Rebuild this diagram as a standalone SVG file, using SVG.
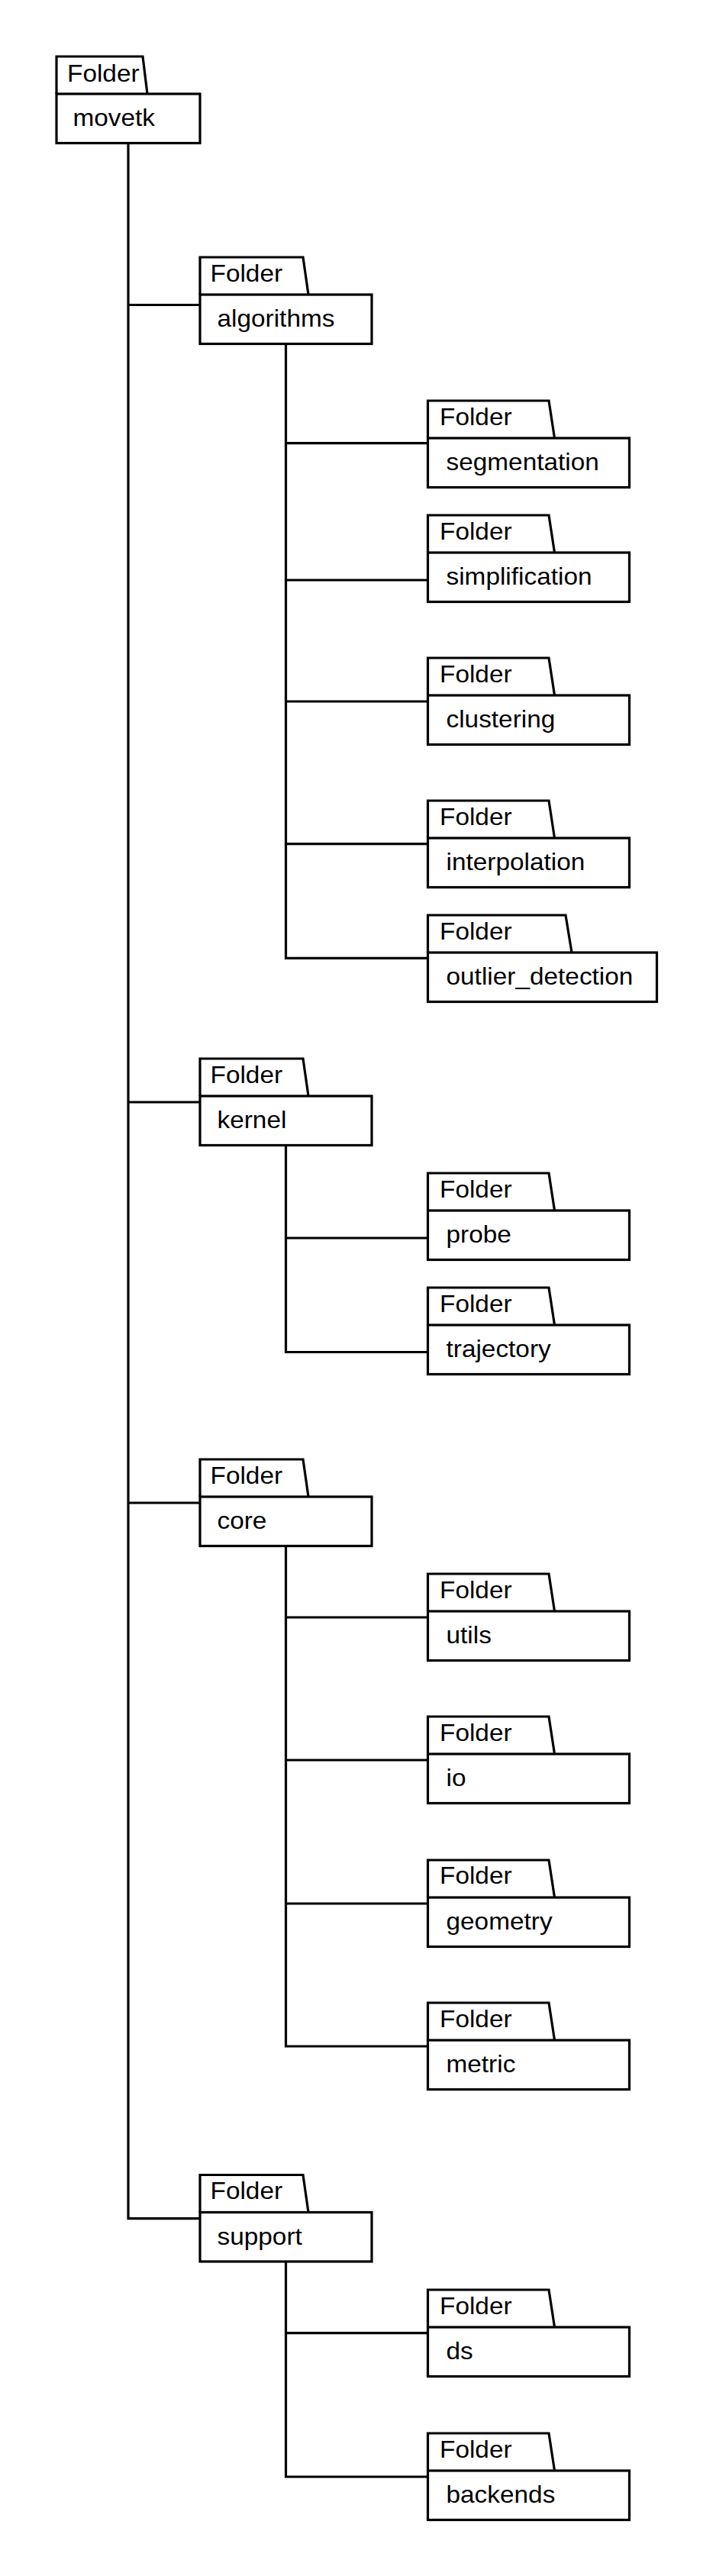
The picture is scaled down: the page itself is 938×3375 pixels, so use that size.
<svg xmlns="http://www.w3.org/2000/svg" width="938" height="3375" viewBox="0 0 938 3375">
<style>
.tab,.box{fill:#ffffff;stroke:#000000;stroke-width:3.2;stroke-linejoin:miter}
.conn{fill:none;stroke:#000000;stroke-width:3.2;stroke-linecap:butt;stroke-linejoin:miter}
text{font-family:"Liberation Sans",Arial,sans-serif;font-size:31.5px;fill:#000000}
</style>
<rect width="938" height="3375" fill="#ffffff"/>
<g id="connectors">
<path class="conn" d="M168,188 V2906.6 H262"/>
<path class="conn" d="M168,399.5 H262"/>
<path class="conn" d="M168,1444 H262"/>
<path class="conn" d="M168,1969 H262"/>
<path class="conn" d="M374.5,450 V1255.3 H560.5"/>
<path class="conn" d="M374.5,580.7 H560.5"/>
<path class="conn" d="M374.5,760 H560.5"/>
<path class="conn" d="M374.5,919 H560.5"/>
<path class="conn" d="M374.5,1105.7 H560.5"/>
<path class="conn" d="M374.5,1500 V1771.5 H560.5"/>
<path class="conn" d="M374.5,1622 H560.5"/>
<path class="conn" d="M374.5,2025 V2681 H560.5"/>
<path class="conn" d="M374.5,2119 H560.5"/>
<path class="conn" d="M374.5,2306 H560.5"/>
<path class="conn" d="M374.5,2494 H560.5"/>
<path class="conn" d="M374.5,2962.5 V3245 H560.5"/>
<path class="conn" d="M374.5,3056.6 H560.5"/>
</g>
<g id="movetk">
<path class="tab" d="M74,123 V74 H187 L193,123"/>
<rect class="box" x="74" y="123" width="188" height="64.5"/>
<text transform="matrix(1.06,0,0,1,88,106.5)">Folder</text>
<text transform="matrix(1.06,0,0,1,95.5,165)">movetk</text>
</g>
<g id="algorithms">
<path class="tab" d="M262,386 V337 H397 L404,386"/>
<rect class="box" x="262" y="386" width="225" height="64.5"/>
<text transform="matrix(1.06,0,0,1,275.5,368.5)">Folder</text>
<text transform="matrix(1.06,0,0,1,284.5,428)">algorithms</text>
</g>
<g id="segmentation">
<path class="tab" d="M560.5,574 V525 H719 L726.5,574"/>
<rect class="box" x="560.5" y="574" width="264" height="64.5"/>
<text transform="matrix(1.06,0,0,1,576,556.5)">Folder</text>
<text transform="matrix(1.06,0,0,1,584.5,616)">segmentation</text>
</g>
<g id="simplification">
<path class="tab" d="M560.5,724 V675 H719 L726.5,724"/>
<rect class="box" x="560.5" y="724" width="264" height="64.5"/>
<text transform="matrix(1.06,0,0,1,576,706.5)">Folder</text>
<text transform="matrix(1.06,0,0,1,584.5,766)">simplification</text>
</g>
<g id="clustering">
<path class="tab" d="M560.5,911 V862 H719 L726.5,911"/>
<rect class="box" x="560.5" y="911" width="264" height="64.5"/>
<text transform="matrix(1.06,0,0,1,576,893.5)">Folder</text>
<text transform="matrix(1.06,0,0,1,584.5,953)">clustering</text>
</g>
<g id="interpolation">
<path class="tab" d="M560.5,1098 V1049 H719 L726.5,1098"/>
<rect class="box" x="560.5" y="1098" width="264" height="64.5"/>
<text transform="matrix(1.06,0,0,1,576,1080.5)">Folder</text>
<text transform="matrix(1.06,0,0,1,584.5,1140)">interpolation</text>
</g>
<g id="outlier_detection">
<path class="tab" d="M560.5,1248 V1199 H741 L749,1248"/>
<rect class="box" x="560.5" y="1248" width="300" height="64.5"/>
<text transform="matrix(1.06,0,0,1,576,1230.5)">Folder</text>
<text transform="matrix(1.06,0,0,1,584.5,1290)">outlier_detection</text>
</g>
<g id="kernel">
<path class="tab" d="M262,1436 V1387 H397 L404,1436"/>
<rect class="box" x="262" y="1436" width="225" height="64.5"/>
<text transform="matrix(1.06,0,0,1,275.5,1418.5)">Folder</text>
<text transform="matrix(1.06,0,0,1,284.5,1478)">kernel</text>
</g>
<g id="probe">
<path class="tab" d="M560.5,1586 V1537 H719 L726.5,1586"/>
<rect class="box" x="560.5" y="1586" width="264" height="64.5"/>
<text transform="matrix(1.06,0,0,1,576,1568.5)">Folder</text>
<text transform="matrix(1.06,0,0,1,584.5,1628)">probe</text>
</g>
<g id="trajectory">
<path class="tab" d="M560.5,1736 V1687 H719 L726.5,1736"/>
<rect class="box" x="560.5" y="1736" width="264" height="64.5"/>
<text transform="matrix(1.06,0,0,1,576,1718.5)">Folder</text>
<text transform="matrix(1.06,0,0,1,584.5,1778)">trajectory</text>
</g>
<g id="core">
<path class="tab" d="M262,1961 V1912 H397 L404,1961"/>
<rect class="box" x="262" y="1961" width="225" height="64.5"/>
<text transform="matrix(1.06,0,0,1,275.5,1943.5)">Folder</text>
<text transform="matrix(1.06,0,0,1,284.5,2003)">core</text>
</g>
<g id="utils">
<path class="tab" d="M560.5,2111 V2062 H719 L726.5,2111"/>
<rect class="box" x="560.5" y="2111" width="264" height="64.5"/>
<text transform="matrix(1.06,0,0,1,576,2093.5)">Folder</text>
<text transform="matrix(1.06,0,0,1,584.5,2153)">utils</text>
</g>
<g id="io">
<path class="tab" d="M560.5,2298 V2249 H719 L726.5,2298"/>
<rect class="box" x="560.5" y="2298" width="264" height="64.5"/>
<text transform="matrix(1.06,0,0,1,576,2280.5)">Folder</text>
<text transform="matrix(1.06,0,0,1,584.5,2340)">io</text>
</g>
<g id="geometry">
<path class="tab" d="M560.5,2486 V2437 H719 L726.5,2486"/>
<rect class="box" x="560.5" y="2486" width="264" height="64.5"/>
<text transform="matrix(1.06,0,0,1,576,2468)">Folder</text>
<text transform="matrix(1.06,0,0,1,584.5,2527.5)">geometry</text>
</g>
<g id="metric">
<path class="tab" d="M560.5,2673 V2624 H719 L726.5,2673"/>
<rect class="box" x="560.5" y="2673" width="264" height="64.5"/>
<text transform="matrix(1.06,0,0,1,576,2655.5)">Folder</text>
<text transform="matrix(1.06,0,0,1,584.5,2715)">metric</text>
</g>
<g id="support">
<path class="tab" d="M262,2898.5 V2849.5 H397 L404,2898.5"/>
<rect class="box" x="262" y="2898.5" width="225" height="64.5"/>
<text transform="matrix(1.06,0,0,1,275.5,2881)">Folder</text>
<text transform="matrix(1.06,0,0,1,284.5,2940.5)">support</text>
</g>
<g id="ds">
<path class="tab" d="M560.5,3049 V3000 H719 L726.5,3049"/>
<rect class="box" x="560.5" y="3049" width="264" height="64.5"/>
<text transform="matrix(1.06,0,0,1,576,3031.5)">Folder</text>
<text transform="matrix(1.06,0,0,1,584.5,3091)">ds</text>
</g>
<g id="backends">
<path class="tab" d="M560.5,3237 V3188 H719 L726.5,3237"/>
<rect class="box" x="560.5" y="3237" width="264" height="64.5"/>
<text transform="matrix(1.06,0,0,1,576,3219.5)">Folder</text>
<text transform="matrix(1.06,0,0,1,584.5,3279)">backends</text>
</g>
</svg>
